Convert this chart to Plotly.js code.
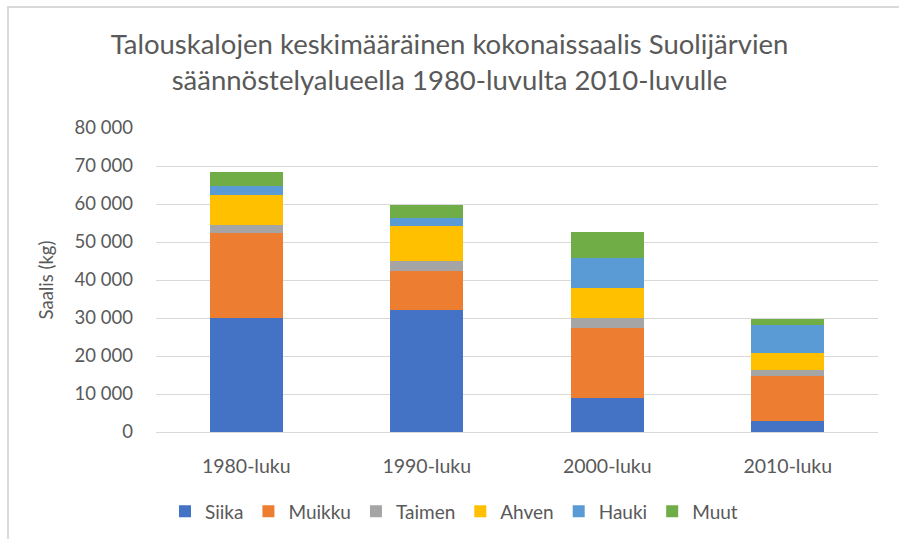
<!DOCTYPE html>
<html>
<head>
<meta charset="utf-8">
<script src="https://cdn.plot.ly/plotly-3.0.1.min.js"></script>
<style>
  body { margin: 0; padding: 0; background: #fff; }
  #wrap { position: relative; width: 899px; height: 539px; }
  #chart { position: absolute; left: 0; top: 0; width: 899px; height: 539px; }
  #frame { position: absolute; left: 7px; top: 6px; width: 900px; height: 540px;
           border-left: 2px solid #d9d9d9; border-top: 2px solid #d9d9d9; pointer-events: none; }
</style>
</head>
<body>
<div id="wrap"><div id="chart"></div><div id="frame"></div></div>
<script>
const categories = ["1980-luku", "1990-luku", "2000-luku", "2010-luku"];
const seriesNames = ["Siika", "Muikku", "Taimen", "Ahven", "Hauki", "Muut"];
const siika  = [30000, 32000, 9000, 2900];
const muikku = [22500, 10500, 18400, 11800];
const taimen = [1850, 2600, 2600, 1600];
const ahven  = [7900, 9200, 7900, 4550];
const hauki  = [2550, 2000, 7900, 7300];
const muut   = [3500, 3500, 6750, 1600];
const colors = ["#4472c4", "#ed7d31", "#a5a5a5", "#ffc000", "#5b9bd5", "#70ad47"];

const values = [siika, muikku, taimen, ahven, hauki, muut];
const font = "Lato, 'Open Sans', sans-serif";
const txt = "#595959";

const data = values.map((v, i) => ({
  type: "bar",
  name: seriesNames[i],
  x: categories,
  y: v,
  marker: { color: colors[i], line: { width: 0 } },
  hoverinfo: "x+y+name"
}));

const layout = {
  width: 899, height: 539,
  barmode: "stack",
  bargap: 0.597,
  separators: ", ",
  paper_bgcolor: "rgba(0,0,0,0)",
  plot_bgcolor: "#fff",
  margin: { l: 156, r: 21, t: 128, b: 107 },
  font: { family: font, color: txt, size: 18.5 },
  title: {
    text: "Talouskalojen keskimääräinen kokonaissaalis Suolijärvien<br>säännöstelyalueella 1980-luvulta 2010-luvulle",
    font: { family: font, size: 27.5, color: txt },
    x: 0.5, xanchor: "center", xref: "container",
    y: 0.9, yanchor: "middle", yref: "container"
  },
  xaxis: {
    type: "category",
    showgrid: false, zeroline: false, showline: false,
    ticks: "", ticklen: 0,
    ticklabelstandoff: 20,
    tickfont: { family: font, size: 19.5, color: txt }
  },
  yaxis: {
    range: [0, 80000],
    dtick: 10000,
    tickformat: ",d",
    showgrid: true, gridcolor: "#d9d9d9", gridwidth: 1,
    zeroline: true, zerolinecolor: "#d9d9d9", zerolinewidth: 1,
    showline: false, ticks: "",
    ticklabelstandoff: 22,
    tickfont: { family: font, size: 18.5, color: txt },
    title: { text: "Saalis (kg)", font: { family: font, size: 18.5, color: txt }, standoff: 16 },
    automargin: false
  },
  showlegend: true,
  legend: {
    orientation: "h",
    xref: "container", yref: "container",
    x: 0.505, xanchor: "center",
    y: 0.016, yanchor: "bottom",
    font: { family: font, size: 19, color: txt },
    itemwidth: 30,
    traceorder: "normal"
  }
};

Plotly.newPlot("chart", data, layout, { displayModeBar: false, staticPlot: true });
</script>
</body>
</html>
